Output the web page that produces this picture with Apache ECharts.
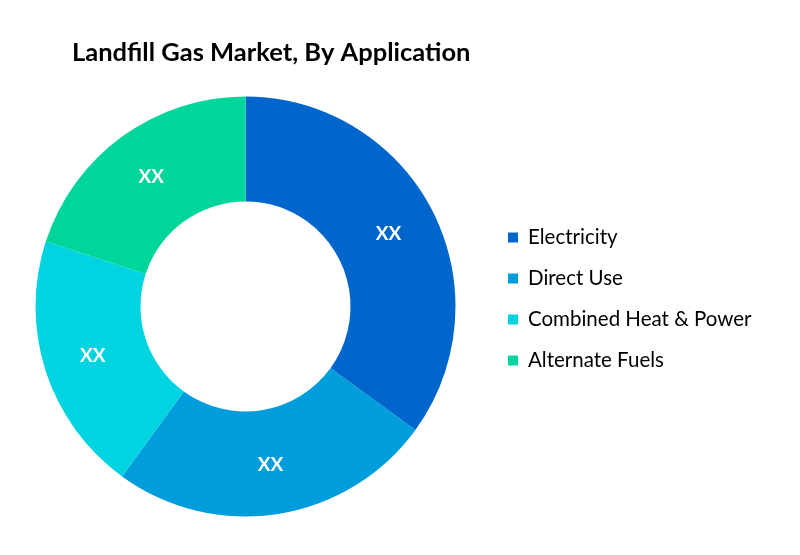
<!DOCTYPE html>
<html lang="en">
<head>
    <meta charset="UTF-8">
    <title>Landfill Gas Market</title>
    <script src="https://cdn.jsdelivr.net/npm/echarts@6/dist/echarts.min.js"></script>
    <style>
        html, body { margin: 0; padding: 0; background: #fff; }
    </style>
</head>
<body>
    <div id="main" style="width: 800px;height:555px;"></div>
    <script type="text/javascript">
        // data
        var categories = ['Electricity', 'Direct Use', 'Combined Heat & Power', 'Alternate Fuels'];
        var shares = [35, 25, 20, 20];
        var sliceLabel = 'XX';
        var colors = ['#0066cc', '#009ddc', '#00d4e0', '#00d59b'];

        var myChart = echarts.init(document.getElementById('main'));

        var option = {
            backgroundColor: '#ffffff',
            animation: false,
            color: colors,
            title: {
                text: 'Landfill Gas Market, By Application',
                left: 67,
                top: 35,
                textStyle: {
                    fontFamily: 'Lato',
                    fontWeight: 'bold',
                    fontSize: 25.5,
                    color: '#000'
                }
            },
            legend: {
                orient: 'vertical',
                left: 503,
                top: 222,
                icon: 'rect',
                itemWidth: 10,
                itemHeight: 10,
                itemGap: 20,
                data: categories,
                textStyle: {
                    fontFamily: 'Lato',
                    fontSize: 20.5,
                    lineHeight: 20,
                    padding: [0, 0, 0, 5],
                    color: '#000'
                }
            },
            series: [{
                type: 'pie',
                center: [245.5, 306.5],
                radius: [105, 210],
                startAngle: 90,
                clockwise: true,
                label: {
                    show: true,
                    position: 'inside',
                    formatter: sliceLabel,
                    color: '#fff',
                    fontFamily: 'Lato',
                    fontWeight: 'bold',
                    fontSize: 19
                },
                labelLine: { show: false },
                emphasis: { scale: false },
                data: categories.map(function (c, i) {
                    return { name: c, value: shares[i] };
                })
            }]
        };

        myChart.setOption(option);
    </script>
</body>
</html>
